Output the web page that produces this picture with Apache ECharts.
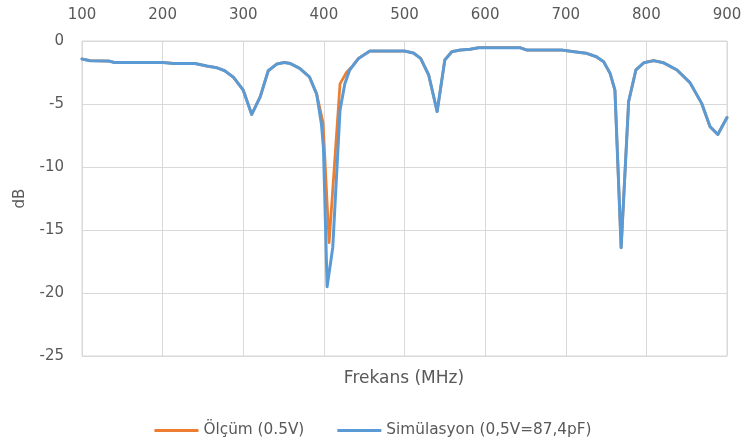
<!DOCTYPE html>
<html>
<head>
<meta charset="utf-8">
<script src="https://cdn.jsdelivr.net/npm/echarts@6/dist/echarts.min.js"></script>
<style>
  html, body { margin: 0; padding: 0; background: #ffffff; }
  #chart { width: 746px; height: 448px; }
</style>
</head>
<body>
<div id="chart"></div>
<script>
// Frequency axis (MHz) and attenuation axis (dB) ticks
const xTicks = [100, 200, 300, 400, 500, 600, 700, 800, 900];
const yTicks = [0, -5, -10, -15, -20, -25];

// Measured response at 0.5 V
const measFreq = [100, 110, 133, 140, 200, 213, 240, 255, 267, 277, 288, 300, 310.5, 321, 331, 341.5, 351, 358, 370, 382, 391, 399, 406.5, 420, 428, 436, 443, 457, 500, 511, 520, 530, 540.5, 550, 558.7, 569, 581, 592, 643, 652, 695, 710, 726, 738, 747, 755, 761, 768.7, 778, 787, 797, 809, 821, 838, 854, 868.6, 879, 888.6, 900];
const measDb   = [-1.43, -1.56, -1.59, -1.7, -1.7, -1.78, -1.78, -1.99, -2.12, -2.36, -2.89, -3.9, -5.83, -4.43, -2.36, -1.83, -1.7, -1.78, -2.17, -2.84, -4.2, -6.5, -16.0, -3.4, -2.5, -1.95, -1.38, -0.8, -0.8, -0.95, -1.38, -2.7, -5.6, -1.5, -0.85, -0.72, -0.66, -0.53, -0.53, -0.72, -0.72, -0.85, -0.98, -1.25, -1.64, -2.57, -3.9, -16.4, -4.8, -2.3, -1.72, -1.56, -1.72, -2.3, -3.3, -4.95, -6.8, -7.42, -6.07];

// Simulated response (0.5 V = 87.4 pF)
const simFreq = [100, 110, 133, 140, 200, 213, 240, 255, 267, 277, 288, 300, 310.5, 321, 331, 341.5, 351, 358, 370, 382, 391, 397, 399.5, 404, 411, 420, 426, 432, 443, 457, 500, 511, 520, 530, 540.5, 550, 558.7, 569, 581, 592, 643, 652, 695, 710, 726, 738, 747, 755, 761, 768.7, 778, 787, 797, 809, 821, 838, 854, 868.6, 879, 888.6, 900];
const simDb   = [-1.43, -1.56, -1.59, -1.7, -1.7, -1.78, -1.78, -1.99, -2.12, -2.36, -2.89, -3.9, -5.83, -4.43, -2.36, -1.83, -1.7, -1.78, -2.17, -2.84, -4.2, -6.6, -8.5, -19.5, -16.4, -5.5, -3.4, -2.3, -1.38, -0.8, -0.8, -0.95, -1.38, -2.7, -5.6, -1.5, -0.85, -0.72, -0.66, -0.53, -0.53, -0.72, -0.72, -0.85, -0.98, -1.25, -1.64, -2.57, -3.9, -16.4, -4.8, -2.3, -1.72, -1.56, -1.72, -2.3, -3.3, -4.95, -6.8, -7.42, -6.07];

const seriesNames = ['Ölçüm (0.5V)', 'Simülasyon (0,5V=87,4pF)'];

const pairs = (xs, ys) => xs.map((x, i) => [x, ys[i]]);

const FONT = '"DejaVu Sans", sans-serif';
const TEXT = '#595959';
const GRID = '#d9d9d9';

const chart = echarts.init(document.getElementById('chart'), null, { renderer: 'canvas' });
chart.setOption({
  animation: false,
  backgroundColor: '#ffffff',
  textStyle: { fontFamily: FONT },
  title: {
    text: 'Frekans (MHz)',
    left: 404,
    textAlign: 'center',
    top: 370,
    padding: 0,
    textStyle: { fontFamily: FONT, fontSize: 17, fontWeight: 'normal', color: TEXT }
  },
  legend: {
    data: seriesNames,
    icon: 'rect',
    left: 'center',
    top: 423,
    padding: 0,
    itemWidth: 44,
    itemHeight: 3,
    itemGap: 33,
    textStyle: { fontFamily: FONT, fontSize: 15.3, color: TEXT }
  },
  grid: {
    left: 82, right: 19, top: 41, bottom: 92,
    show: true, borderColor: GRID, borderWidth: 1
  },
  xAxis: {
    type: 'value',
    position: 'top',
    min: xTicks[0],
    max: xTicks[xTicks.length - 1],
    interval: 100,
    axisLine: { show: false },
    axisTick: { show: false },
    axisLabel: { color: TEXT, fontSize: 15, fontFamily: FONT, margin: 18 },
    splitLine: { show: true, lineStyle: { color: GRID, width: 1 } }
  },
  yAxis: {
    type: 'value',
    min: yTicks[yTicks.length - 1],
    max: yTicks[0],
    interval: 5,
    name: 'dB',
    nameLocation: 'middle',
    nameGap: 54,
    nameTextStyle: { color: TEXT, fontSize: 15, fontFamily: FONT },
    axisLine: { show: false },
    axisTick: { show: false },
    axisLabel: { color: TEXT, fontSize: 15, fontFamily: FONT, margin: 18 },
    splitLine: { show: true, lineStyle: { color: GRID, width: 1 } }
  },
  series: [
    {
      name: seriesNames[0],
      type: 'line',
      data: pairs(measFreq, measDb),
      symbol: 'none',
      smooth: false,
      color: '#ED7D31',
      lineStyle: { color: '#ED7D31', width: 2.75, join: 'round', cap: 'round' },
      z: 2
    },
    {
      name: seriesNames[1],
      type: 'line',
      data: pairs(simFreq, simDb),
      symbol: 'none',
      smooth: false,
      color: '#5B9BD5',
      lineStyle: { color: '#5B9BD5', width: 3, join: 'round', cap: 'round' },
      z: 3
    }
  ]
});
</script>
</body>
</html>
